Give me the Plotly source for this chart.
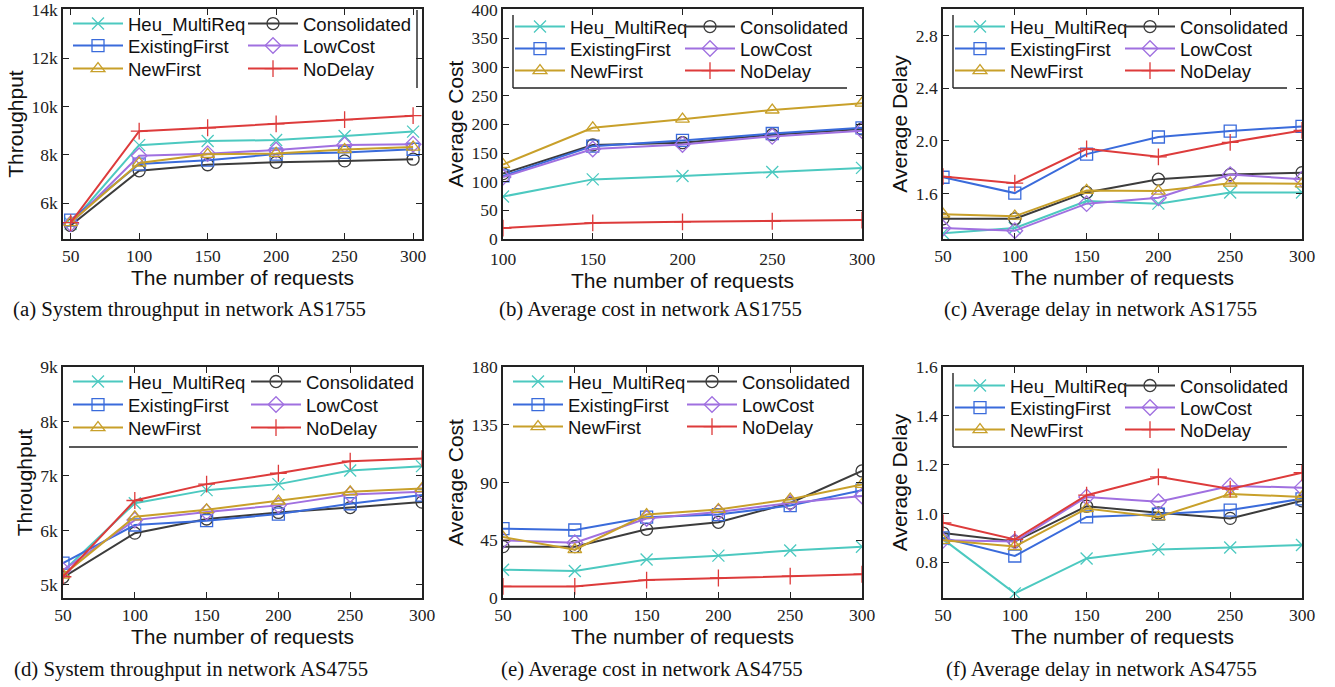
import plotly.graph_objects as go

W, H = 1335, 687

# ---------------- data ----------------
series_names = ["Heu_MultiReq", "Consolidated", "ExistingFirst", "LowCost", "NewFirst", "NoDelay"]
series_colors = ["#4CC9C0", "#3C3C3C", "#3A6BDB", "#A070E0", "#C8A02A", "#DD3B3B"]
series_symbols = ["x-thin-open", "circle-open", "square-open", "diamond-open", "triangle-up-open", "cross-thin-open"]

req6 = [50, 100, 150, 200, 250, 300]
req5 = [100, 150, 200, 250, 300]

# (a) throughput AS1755
a_heu = [5150, 8400, 8570, 8610, 8780, 8960]
a_cons = [5080, 7340, 7590, 7690, 7750, 7820]
a_exist = [5300, 7620, 7780, 8030, 8100, 8230]
a_low = [5150, 7960, 8050, 8200, 8410, 8440]
a_new = [5200, 7660, 8020, 8060, 8220, 8320]
a_nodelay = [5200, 8980, 9120, 9280, 9460, 9620]

# (b) average cost AS1755
b_heu = [74, 104, 110, 117, 124]
b_cons = [114, 164, 168, 182, 192]
b_exist = [110, 162, 172, 184, 194]
b_low = [108, 157, 165, 179, 189]
b_new = [130, 194, 209, 225, 237]
b_nodelay = [19, 28, 30, 31, 33]

# (c) average delay AS1755
c_heu = [1.30, 1.34, 1.545, 1.525, 1.61, 1.61]
c_cons = [1.41, 1.41, 1.61, 1.71, 1.745, 1.76]
c_exist = [1.725, 1.605, 1.90, 2.03, 2.075, 2.11]
c_low = [1.34, 1.32, 1.525, 1.57, 1.745, 1.71]
c_new = [1.445, 1.43, 1.625, 1.62, 1.68, 1.675]
c_nodelay = [1.73, 1.68, 1.94, 1.88, 1.99, 2.08]

# (d) throughput AS4755
d_heu = [5250, 6500, 6740, 6850, 7100, 7180]
d_cons = [5140, 5950, 6210, 6330, 6420, 6520]
d_exist = [5400, 6100, 6180, 6300, 6490, 6650]
d_low = [5270, 6190, 6340, 6460, 6660, 6710]
d_new = [5180, 6250, 6380, 6540, 6710, 6770]
d_nodelay = [5150, 6550, 6850, 7050, 7270, 7320]

# (e) average cost AS4755
e_heu = [22, 21, 30, 33, 37, 40]
e_cons = [40, 40, 53.5, 59, 74, 99]
e_exist = [54, 53, 63, 65, 72, 84]
e_low = [45, 43, 62, 67, 74, 79.5]
e_new = [47.5, 37.7, 65, 69, 77, 88.5]
e_nodelay = [9, 9, 14, 15.6, 17, 18.5]

# (f) average delay AS4755
f_heu = [0.895, 0.673, 0.816, 0.853, 0.861, 0.871]
f_cons = [0.92, 0.885, 1.03, 1.003, 0.98, 1.052]
f_exist = [0.90, 0.826, 0.986, 0.997, 1.014, 1.06]
f_low = [0.89, 0.885, 1.068, 1.048, 1.113, 1.106]
f_new = [0.89, 0.865, 1.02, 0.986, 1.08, 1.068]
f_nodelay = [0.962, 0.894, 1.075, 1.15, 1.10, 1.167]

thr_a_ticks = [6000, 8000, 10000, 12000, 14000]
thr_a_text = ["6k", "8k", "10k", "12k", "14k"]
thr_d_ticks = [5000, 6000, 7000, 8000, 9000]
thr_d_text = ["5k", "6k", "7k", "8k", "9k"]

captions = [
    "(a) System throughput in network AS1755",
    "(b) Average cost in network AS1755",
    "(c) Average delay in network AS1755",
    "(d) System throughput in network AS4755",
    "(e) Average cost in network AS4755",
    "(f) Average delay in network AS4755",
]

# ---------------- layout geometry (pixels) ----------------
def fx(x):
    return x / W

def fy(y):
    return 1 - y / H

cols = [(63, 422), (503, 862), (943, 1302)]
rows = [(9, 239), (367, 598)]

panels = [
    dict(x=req6, ys=[a_heu, a_cons, a_exist, a_low, a_new, a_nodelay], xr=[44.4, 306.5], yr=[4520, 14030],
         ytv=thr_a_ticks, ytt=thr_a_text, xtv=req6, ytitle="Throughput", col=0, row=0,
         text_x=(128, 303), row_y=(25, 47, 70), cap_x=190, xstand=0),
    dict(x=req5, ys=[b_heu, b_cons, b_exist, b_low, b_new, b_nodelay], xr=[100, 300], yr=[0, 401.2],
         ytv=[0, 50, 100, 150, 200, 250, 300, 350, 400], ytt=None, xtv=req5, ytitle="Average Cost", col=1, row=0,
         text_x=(570, 740), row_y=(28, 50, 72), cap_x=650, xstand=3),
    dict(x=req6, ys=[c_heu, c_cons, c_exist, c_low, c_new, c_nodelay], xr=[50, 300], yr=[1.257, 3.0],
         ytv=[1.6, 2.0, 2.4, 2.8], ytt=["1.6", "2.0", "2.4", "2.8"], xtv=req6, ytitle="Average Delay", col=2, row=0,
         text_x=(1010, 1180), row_y=(28, 50, 72), cap_x=1100, xstand=0),
    dict(x=req6, ys=[d_heu, d_cons, d_exist, d_low, d_new, d_nodelay], xr=[50, 300], yr=[4760, 9000],
         ytv=thr_d_ticks, ytt=thr_d_text, xtv=req6, ytitle="Throughput", col=0, row=1,
         text_x=(128, 306), row_y=(383, 406, 429), cap_x=191, xstand=0),
    dict(x=req6, ys=[e_heu, e_cons, e_exist, e_low, e_new, e_nodelay], xr=[50, 300], yr=[0, 180],
         ytv=[0, 45, 90, 135, 180], ytt=None, xtv=req6, ytitle="Average Cost", col=1, row=1,
         text_x=(568, 742), row_y=(383, 406, 428), cap_x=652, xstand=0),
    dict(x=req6, ys=[f_heu, f_cons, f_exist, f_low, f_new, f_nodelay], xr=[50, 300], yr=[0.654, 1.6],
         ytv=[0.8, 1.0, 1.2, 1.4, 1.6], ytt=["0.8", "1.0", "1.2", "1.4", "1.6"], xtv=req6, ytitle="Average Delay", col=2, row=1,
         text_x=(1010, 1180), row_y=(387, 409, 431), cap_x=1101, xstand=0),
]

fig = go.Figure()
layout = dict(
    width=W, height=H,
    margin=dict(l=0, r=0, t=0, b=0, autoexpand=False),
    paper_bgcolor="white", plot_bgcolor="white",
    showlegend=True,
    shapes=[], annotations=[],
)

tick_font = dict(family="Liberation Serif", size=17.5, color="#222")
title_font = dict(family="Liberation Sans", size=21, color="#111")
leg_font = dict(family="Liberation Sans", size=18.5, color="#111")

LEG_TEXT_OFF = 60   # legend left -> text start (px)
LEG_ROW_OFF = 20    # legend top -> row centre (px)

leg_count = 0
for pi, p in enumerate(panels):
    n = pi + 1
    xa = "xaxis" if n == 1 else f"xaxis{n}"
    ya = "yaxis" if n == 1 else f"yaxis{n}"
    xref = "x" if n == 1 else f"x{n}"
    yref = "y" if n == 1 else f"y{n}"
    c0, c1 = cols[p["col"]]
    r0, r1 = rows[p["row"]]
    layout[xa] = dict(
        domain=[fx(c0), fx(c1)], range=p["xr"], anchor=yref,
        tickmode="array", tickvals=p["xtv"], ticks="inside", ticklen=6, tickwidth=1.2, tickcolor="#222",
        showline=True, linecolor="#222", linewidth=1.6, mirror="ticks", showgrid=False, zeroline=False,
        tickfont=tick_font, ticklabeloverflow="allow", ticklabelstandoff=p["xstand"],
        title=dict(text="The number of requests", font=title_font, standoff=0),
    )
    yax = dict(
        domain=[fy(r1), fy(r0)], range=p["yr"], anchor=xref,
        tickmode="array", tickvals=p["ytv"], ticks="inside", ticklen=6, tickwidth=1.2, tickcolor="#222",
        showline=True, linecolor="#222", linewidth=1.6, mirror="ticks", showgrid=False, zeroline=False,
        tickfont=tick_font, ticklabeloverflow="allow",
        title=dict(text=p["ytitle"], font=title_font, standoff=2),
    )
    if p["ytt"] is not None:
        yax["ticktext"] = p["ytt"]
    layout[ya] = yax

    for si, name in enumerate(series_names):
        leg_count += 1
        lkey = "legend" if leg_count == 1 else f"legend{leg_count}"
        col_i = si % 2
        row_i = si // 2
        layout[lkey] = dict(
            x=fx(p["text_x"][col_i] - LEG_TEXT_OFF), y=fy(p["row_y"][row_i] - LEG_ROW_OFF),
            xref="paper", yref="paper", xanchor="left", yanchor="top",
            orientation="v", bgcolor="rgba(0,0,0,0)", borderwidth=0, font=leg_font,
            itemwidth=50, tracegroupgap=0,
        )
        fig.add_trace(go.Scatter(
            x=p["x"], y=p["ys"][si], name=name, mode="lines+markers",
            xaxis=xref, yaxis=yref, legend=lkey,
            line=dict(color=series_colors[si], width=2),
            marker=dict(symbol=series_symbols[si], size=12, color=series_colors[si],
                        line=dict(color=series_colors[si], width=1.3)),
        ))

    # caption
    cap_y = 309 if p["row"] == 0 else 669
    layout["annotations"].append(dict(
        text=captions[pi], x=fx(p["cap_x"]), y=fy(cap_y), xref="paper", yref="paper",
        xanchor="center", yanchor="middle", showarrow=False,
        font=dict(family="Liberation Serif", size=20.8, color="#111"),
    ))

# partial legend frames
def hline(x0, x1, y):
    return dict(type="line", xref="paper", yref="paper", x0=fx(x0), x1=fx(x1), y0=fy(y), y1=fy(y),
                line=dict(color="#222", width=1.4))

def vline(x, y0, y1):
    return dict(type="line", xref="paper", yref="paper", x0=fx(x), x1=fx(x), y0=fy(y0), y1=fy(y1),
                line=dict(color="#222", width=1.4))

layout["shapes"] += [
    vline(417, 10, 88),
    vline(513, 15, 88), hline(513, 847, 88),
    vline(953, 15, 88), hline(953, 1287, 88),
    hline(69, 418, 447),
    vline(953, 373, 447), hline(953, 1287, 447),
]

fig.update_layout(**layout)
fig.write_html("out.html")
